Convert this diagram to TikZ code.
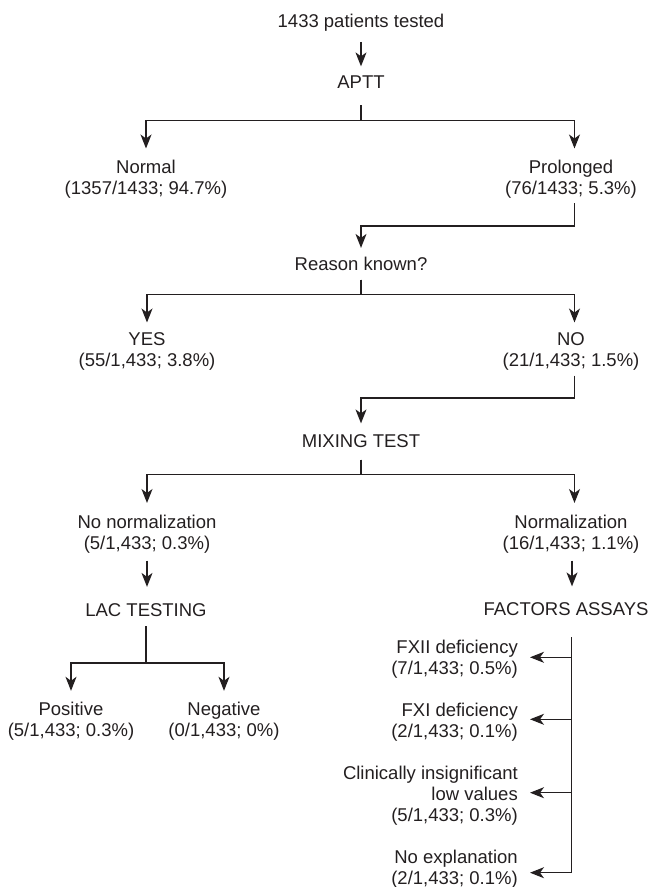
\documentclass[tikz,border=0pt]{standalone}
\usepackage{fontspec}
\setmainfont{Liberation Sans}
\usetikzlibrary{arrows.meta,calc}
\definecolor{ink}{HTML}{231F20}
\begin{document}
\begin{tikzpicture}[x=1pt,y=-1pt,
  every node/.style={font={\fontsize{18.5}{21}\selectfont}, text=ink, inner sep=5pt},
  lbl/.style={anchor=base},
  two/.style={anchor=north, align=center},
  rgt/.style={anchor=north east, align=right},
  ln/.style={draw=ink, line width=1.3pt},
  arr/.style={ln, -{Stealth[length=14pt,width=11pt,inset=4pt]}}]
\useasboundingbox (0,0) rectangle (654,887);
% nodes
\node[lbl] (top) at (361,27.3) {1433 patients tested};
\node[lbl] (aptt) at (361,88.3) {APTT};
\node[two] (normal) at (146,154.5) {Normal\\(1357/1433; 94.7\%)};
\node[two] (prol) at (571,154.5) {Prolonged\\(76/1433; 5.3\%)};
\node[lbl] (reason) at (361,270.7) {Reason known?};
\node[two] (yes) at (147,327.5) {YES\\(55/1,433; 3.8\%)};
\node[two] (no) at (571,327.5) {NO\\(21/1,433; 1.5\%)};
\node[lbl] (mix) at (361,447.7) {MIXING TEST};
\node[two] (nonorm) at (147,509.5) {No normalization\\(5/1,433; 0.3\%)};
\node[two] (norm) at (571,509.5) {Normalization\\(16/1,433; 1.1\%)};
\node[lbl] (lac) at (146,616) {LAC TESTING};
\node[lbl] (fact) at (566,615.5) {FACTORS ASSAYS};
\node[two] (pos) at (71,696.8) {Positive\\(5/1,433; 0.3\%)};
\node[two] (neg) at (224,696.8) {Negative\\(0/1,433; 0\%)};
\node[rgt] (fxii) at (523,635.1) {FXII deficiency\\(7/1,433; 0.5\%)};
\node[rgt] (fxi) at (523,697.8) {FXI deficiency\\(2/1,433; 0.1\%)};
\node[rgt] (clin) at (523,761.1) {Clinically insignificant\\low values\\(5/1,433; 0.3\%)};
\node[rgt] (noexp) at (523,845.1) {No explanation\\(2/1,433; 0.1\%)};
% connectors
\draw[arr, shorten <=5.5pt, shorten >=4pt] (top) -- (aptt);
\draw[arr, shorten >=6pt] ([yshift=-11.7pt]aptt.south) -- ++(0,15) -| (normal.north);
\draw[arr, shorten >=6pt] ([yshift=-11.7pt]aptt.south) -- ++(0,15) -| ([xshift=3.5pt]prol.north);
\draw[arr, shorten >=4.2pt] ([xshift=3.5pt]prol.south) -- ++(0,22.8) -| (reason.north);
\draw[arr, shorten >=5pt] ([yshift=-3.6pt]reason.south) -- ++(0,14.7) -| (yes.north);
\draw[arr, shorten >=5pt] ([yshift=-3.6pt]reason.south) -- ++(0,14.7) -| ([xshift=3.5pt]no.north);
\draw[arr, shorten >=6.2pt] ([xshift=3.5pt]no.south) -- ++(0,22.4) -| (mix.north);
\draw[arr, shorten >=6.5pt] ([yshift=-6.6pt]mix.south) -- ++(0,14.7) -| (nonorm.north);
\draw[arr, shorten >=6.5pt] ([yshift=-6.6pt]mix.south) -- ++(0,14.7) -| ([xshift=3.5pt]norm.north);
\draw[arr, shorten <=2.4pt, shorten >=11pt] (nonorm.south) -- (nonorm.south |- lac.north);
\draw[arr, shorten <=2.4pt, shorten >=11pt] ([xshift=1pt]norm.south) -- ([xshift=1pt]norm.south |- fact.north);
\draw[arr, shorten >=6pt] ([yshift=-5pt]lac.south) -- ++(0,36.7) -| (pos.north);
\draw[arr, shorten >=6pt] ([yshift=-5pt]lac.south) -- ++(0,36.7) -| (neg.north);
% factors trunk
\coordinate (ftop) at (571.7,637.3);
\coordinate (b1) at (571.7,657.3);
\coordinate (b2) at (571.7,719.3);
\coordinate (b3) at (571.7,792.7);
\coordinate (b4) at (571.7,872.7);
\draw[ln] (ftop) -- (b4);
\draw[arr, shorten >=7pt] (b1) -- (fxii.east |- b1);
\draw[arr, shorten >=7pt] (b2) -- (fxi.east |- b2);
\draw[arr, shorten >=7pt] (b3) -- (clin.east |- b3);
\draw[arr, shorten >=7pt] (b4) -- (noexp.east |- b4);
\end{tikzpicture}
\end{document}
